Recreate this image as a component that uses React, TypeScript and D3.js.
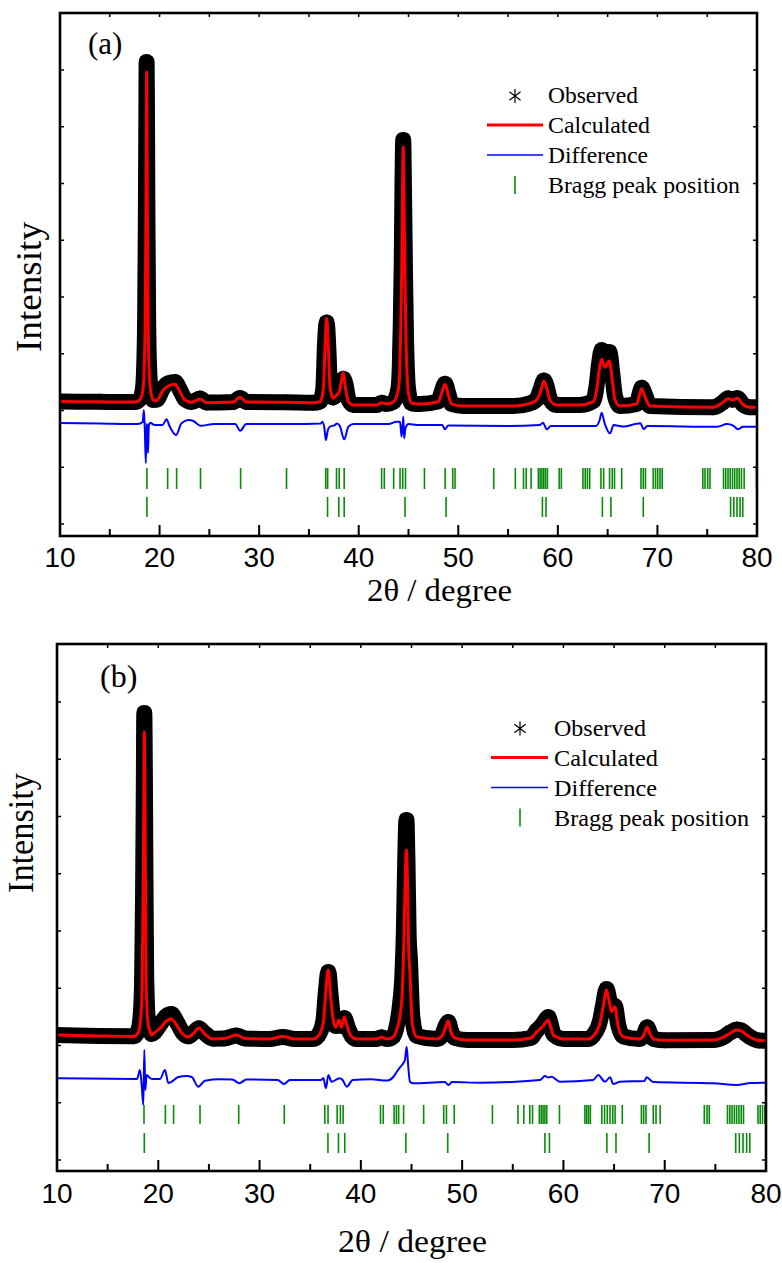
import React from 'react';
import * as d3 from 'd3';

const W = 782;
const H = 1263;

// ---------- axis values ----------
const xMajorTicks = [10, 20, 30, 40, 50, 60, 70, 80];
const xMinorTicks = [15, 25, 35, 45, 55, 65, 75];
const yTicks = [0, 1000, 2000, 3000, 4000, 5000, 6000, 7000, 8000];
const legendLabels = ['Observed', 'Calculated', 'Difference', 'Bragg peak position'];

// ---------- panel (a) ----------
const thetaA = [10, 12, 14, 16, 17.5, 18.0, 18.3, 18.45, 18.55, 18.62, 18.67, 18.70, 18.73, 18.78, 18.85, 18.95, 19.1, 19.37, 19.7, 20.37,
  20.88, 21.55, 22.05, 22.55, 23.22, 24.06, 24.73, 27.4, 28.08, 28.75, 32.77, 35.44, 36.11, 36.44, 36.62, 36.78, 36.95, 37.12, 37.45, 37.79,
  38.05, 38.29, 38.45, 38.65, 38.96, 39.46, 41.8, 42.3, 42.8, 43.47, 43.98, 44.12, 44.22, 44.32, 44.40, 44.47, 44.55, 44.65, 44.75, 44.88,
  45.05, 45.32, 46.16, 47.99, 48.33, 48.67, 49.0, 49.34, 50.5, 55.53, 57.2, 57.87, 58.31, 58.6, 58.88, 59.21, 59.88, 62.22, 63.56, 63.9,
  64.16, 64.4, 64.74, 65.17, 65.47, 65.74, 66.24, 67.92, 68.25, 68.42, 68.75, 69.25, 75.61, 76.45, 77.12, 77.56, 78.02, 78.63, 79.3, 80];
const calcA = [2158, 2155, 2153, 2150, 2150, 2185, 2326, 2713, 3594, 5180, 6942, 7964, 7295, 5356, 3594, 2713, 2361, 2185, 2173, 2361,
  2432, 2462, 2331, 2185, 2144, 2203, 2137, 2150, 2232, 2150, 2144, 2137, 2155, 2361, 3124, 3624, 3124, 2419, 2215, 2273,
  2331, 2537, 2666, 2419, 2155, 2097, 2097, 2137, 2114, 2150, 2361, 2713, 3418, 4475, 5885, 6643, 5709, 4299, 3242, 2537,
  2255, 2127, 2114, 2155, 2303, 2462, 2273, 2114, 2079, 2079, 2127, 2185, 2361, 2520, 2391, 2185, 2097, 2097, 2155, 2361,
  2713, 2902, 2761, 2872, 2537, 2185, 2079, 2114, 2303, 2384, 2243, 2079, 2056, 2127, 2208, 2185, 2215, 2097, 2056, 2056];
const obsA = [2158, 2155, 2153, 2150, 2150, 2200, 2350, 2750, 3650, 5300, 7100, 8140, 7450, 5450, 3650, 2750, 2380, 2185, 2190, 2400,
  2480, 2502, 2360, 2200, 2150, 2210, 2140, 2150, 2220, 2150, 2144, 2137, 2160, 2380, 3200, 3550, 3100, 2400, 2230, 2300,
  2360, 2500, 2560, 2480, 2200, 2097, 2097, 2137, 2114, 2150, 2380, 2750, 3500, 4600, 6050, 6766, 5850, 4400, 3300, 2560,
  2270, 2127, 2114, 2160, 2330, 2470, 2300, 2114, 2079, 2079, 2127, 2200, 2400, 2530, 2420, 2200, 2097, 2097, 2170, 2450,
  2850, 3066, 2890, 3031, 2650, 2250, 2079, 2114, 2320, 2400, 2280, 2079, 2056, 2127, 2215, 2190, 2220, 2100, 2056, 2056];
const diffThetaA = [10, 14, 17.8, 18.3, 18.43, 18.52, 18.62, 18.7, 18.78, 18.84, 18.92, 19.05, 19.5, 20.3, 20.7, 21.0, 21.65, 22.2, 22.9, 23.4,
  24.1, 25.5, 27.6, 28.1, 28.7, 33, 36.2, 36.35, 36.55, 36.7, 36.9, 37.1, 37.6, 37.8, 38.1, 38.55, 38.96, 39.5, 43, 43.8,
  44.15, 44.3, 44.42, 44.48, 44.56, 44.7, 45.0, 46, 48.4, 48.65, 49.0, 55, 58.2, 58.5, 58.9, 59.3, 63.8, 64.2, 64.4, 64.7,
  65.24, 65.6, 66.5, 68.3, 68.6, 69.0, 76, 77.0, 77.6, 78.1, 78.6, 80];
const diffA = [1780, 1771, 1762, 1797, 2009, 1656, 1075, 1762, 1692, 1251, 1727, 1785, 1744, 1744, 1845, 1727, 1568, 1774, 1832, 1815,
  1732, 1762, 1762, 1644, 1762, 1762, 1771, 1803, 1692, 1480, 1656, 1714, 1744, 1771, 1727, 1492, 1714, 1762, 1762, 1803,
  1803, 1538, 1762, 1891, 1510, 1692, 1762, 1744, 1744, 1669, 1735, 1727, 1744, 1785, 1669, 1727, 1727, 1832, 1961, 1774,
  1598, 1744, 1718, 1774, 1674, 1727, 1714, 1762, 1735, 1669, 1714, 1714];
const braggA1 = [18.73, 20.81, 21.71, 24.11, 28.14, 32.75, 36.69, 36.88, 37.77, 38.04, 38.54, 42.30, 42.57, 43.51, 44.15, 44.42, 44.70,
  46.60, 48.68, 49.44, 49.67, 53.56, 55.73, 56.55, 56.82, 57.31, 58.04, 58.22, 58.40, 58.58, 58.76, 58.95, 60.13, 60.35,
  62.52, 62.75, 62.97, 63.20, 64.33, 64.60, 65.19, 65.46, 65.69, 66.41, 68.35, 68.58, 68.80, 69.58, 69.81, 70.03, 70.26, 70.48,
  74.56, 74.78, 75.05, 75.28, 76.64, 76.86, 77.09, 77.31, 77.54, 77.76, 77.99, 78.21, 78.44, 78.71, 79.95];
const braggA2 = [18.73, 36.87, 38.0, 38.54, 44.65, 48.77, 58.45, 58.81, 64.47, 65.33, 68.58, 77.35, 77.67, 77.99, 78.30, 78.57];

// ---------- panel (b) ----------
const thetaB = [10, 14, 17.6, 18.0, 18.25, 18.4, 18.5, 18.57, 18.62, 18.67, 18.73, 18.8, 18.95, 19.15, 19.35, 19.6, 20.3, 20.8, 21.3, 21.8,
  22.4, 22.96, 23.5, 24.0, 24.6, 25.4, 26.5, 27.7, 28.6, 31, 32.3, 33.5, 35.3, 35.8, 36.29, 36.55, 36.79, 37.02, 37.28, 37.51,
  37.84, 38.07, 38.36, 38.7, 39.09, 39.58, 41.5, 42.05, 42.6, 43.2, 43.53, 43.86, 44.1, 44.25, 44.38, 44.5, 44.6, 44.72, 44.85, 45.07,
  45.5, 47.5, 48.0, 48.35, 48.63, 48.9, 49.3, 50.5, 55, 56.8, 57.35, 57.9, 58.3, 58.5, 58.75, 59.0, 59.33, 60, 62.5, 62.95,
  63.6, 63.93, 64.26, 64.55, 64.76, 65.08, 65.41, 65.9, 67.5, 67.95, 68.27, 68.55, 68.9, 70, 74.8, 75.8, 76.5, 77.1, 77.6, 78.1,
  78.6, 79.3, 80];
const calcB = [2183, 2166, 2157, 2218, 2445, 2969, 4541, 6288, 7476, 6637, 4891, 3144, 2445, 2271, 2183, 2218, 2323, 2428, 2463, 2358,
  2201, 2148, 2218, 2306, 2201, 2114, 2122, 2183, 2122, 2114, 2157, 2114, 2114, 2166, 2393, 2969, 3319, 2852, 2445, 2318,
  2445, 2318, 2493, 2306, 2154, 2114, 2114, 2143, 2114, 2148, 2271, 2503, 2969, 3843, 4891, 5415, 4891, 3668, 3266, 2393,
  2154, 2114, 2166, 2306, 2428, 2236, 2131, 2096, 2096, 2131, 2236, 2323, 2410, 2445, 2323, 2183, 2148, 2114, 2114, 2166,
  2388, 2678, 2969, 2742, 2590, 2678, 2328, 2154, 2114, 2183, 2318, 2201, 2114, 2091, 2096, 2148, 2218, 2271, 2253, 2183,
  2131, 2087, 2084];
const obsB = [2183, 2166, 2160, 2250, 2500, 3100, 4700, 6500, 7808, 6900, 5100, 3300, 2500, 2300, 2200, 2230, 2400, 2515, 2550, 2420,
  2230, 2160, 2230, 2300, 2210, 2120, 2122, 2175, 2122, 2114, 2150, 2114, 2114, 2180, 2420, 2950, 3284, 2870, 2450, 2340,
  2460, 2340, 2480, 2320, 2170, 2114, 2114, 2143, 2114, 2160, 2330, 2707, 3231, 4017, 5240, 5939, 5240, 3930, 3493, 2533,
  2170, 2114, 2170, 2330, 2410, 2260, 2131, 2096, 2096, 2131, 2260, 2360, 2460, 2498, 2370, 2200, 2150, 2114, 2114, 2180,
  2420, 2720, 2987, 2780, 2640, 2690, 2360, 2160, 2114, 2190, 2318, 2210, 2114, 2091, 2096, 2148, 2230, 2280, 2260, 2190,
  2131, 2087, 2084];
const diffThetaB = [10, 17.9, 18.19, 18.36, 18.52, 18.62, 18.72, 18.85, 19.18, 19.51, 20.17, 20.66, 20.99, 21.32, 21.98, 22.8, 23.3, 23.95, 24.61, 26.09,
  27.3, 28.0, 28.7, 31.8, 32.4, 33, 36.1, 36.29, 36.55, 36.79, 37.1, 37.9, 38.2, 38.6, 39.2, 41, 42.6, 43.2, 43.53, 43.92,
  44.19, 44.35, 44.52, 44.68, 44.85, 45.17, 48.3, 48.63, 49, 51.76, 57.68, 58.17, 58.5, 58.83, 59.65, 62.94, 63.44, 64.1, 64.6, 64.92,
  65.58, 68.0, 68.21, 68.87, 74.8, 77.1, 78.5, 80];
const diffB = [1427, 1415, 1572, 1310, 961, 1921, 1223, 1485, 1432, 1415, 1415, 1572, 1345, 1368, 1450, 1467, 1450, 1280, 1385, 1410,
  1406, 1340, 1406, 1397, 1327, 1397, 1397, 1432, 1252, 1485, 1368, 1427, 1397, 1280, 1397, 1410, 1389, 1450, 1537, 1630,
  1689, 1747, 1979, 1630, 1368, 1340, 1362, 1310, 1362, 1350, 1397, 1467, 1441, 1455, 1368, 1397, 1485, 1368, 1445, 1327,
  1368, 1380, 1445, 1362, 1340, 1310, 1345, 1350];
const braggB1 = [18.59, 20.70, 21.51, 24.12, 27.94, 32.44, 36.44, 36.76, 37.66, 37.98, 38.25, 41.94, 42.21, 43.28, 43.51, 43.73, 44.22,
  46.20, 48.18, 48.45, 49.22, 52.99, 55.51, 56.09, 56.68, 56.95, 57.62, 57.81, 57.99, 58.17, 58.35, 59.61,
  62.12, 62.30, 62.48, 62.66, 63.79, 64.06, 64.33, 64.60, 64.87, 65.10, 65.81, 67.70, 67.92, 68.15, 68.87, 69.14, 69.55,
  73.91, 74.18, 74.40, 76.20, 76.43, 76.65, 76.88, 77.10, 77.33, 77.56, 77.78, 79.21, 79.43, 79.66, 79.89];
const braggB2 = [18.62, 36.75, 37.79, 38.41, 44.44, 48.58, 58.17, 58.62, 64.29, 65.19, 68.46, 77.01, 77.37, 77.73, 78.09, 78.40];

// ---------- layout ----------
const panels = [
  {
    key: 'a', left: 60, right: 757, top: 13, bottom: 536, yMin: -211, yMax: 9004,
    theta: thetaA, calc: calcA, obs: obsA, diffTheta: diffThetaA, diff: diffA, bragg1: braggA1, bragg2: braggA2,
    row1: [468, 489], row2: [497, 517],
    label: '(a)', labelX: 88, labelY: 54, labelSize: 31,
    tickBaseline: 567,
    xTitle: { x: 367, y: 601, len: 145 },
    yTitle: { x: 41, y: 287, len: 130 },
    legend: { starX: 515, textX: 548, base: 103, lineX0: 487, lineX1: 543, widths: [90, 102, 100, 192] },
  },
  {
    key: 'b', left: 57, right: 766, top: 644, bottom: 1171, yMin: -192, yMax: 9013,
    theta: thetaB, calc: calcB, obs: obsB, diffTheta: diffThetaB, diff: diffB, bragg1: braggB1, bragg2: braggB2,
    row1: [1105, 1124], row2: [1133, 1153],
    label: '(b)', labelX: 100, labelY: 687, labelSize: 32,
    tickBaseline: 1203,
    xTitle: { x: 338, y: 1252, len: 149 },
    yTitle: { x: 33, y: 833, len: 120 },
    legend: { starX: 520, textX: 554, base: 735.5, lineX0: 491, lineX1: 548, widths: [92, 104, 103, 195] },
  },
];

const SERIF = '"Liberation Serif", "Times New Roman", Times, serif';
const SANS = '"Liberation Sans", Arial, Helvetica, sans-serif';

function Star({ cx, cy, r }: { cx: number; cy: number; r: number }) {
  const dx = r * 0.8;
  const dy = r * 0.62;
  const d = `M${cx},${cy - r}V${cy + r}M${cx - dx},${cy - dy}L${cx + dx},${cy + dy}M${cx - dx},${cy + dy}L${cx + dx},${cy - dy}`;
  return <path d={d} stroke="#000" strokeWidth={1.2} fill="none" />;
}

function Panel({ cfg }: { cfg: any }) {
  const x = d3.scaleLinear().domain([10, 80]).range([cfg.left, cfg.right]);
  const y = d3.scaleLinear().domain([cfg.yMin, cfg.yMax]).range([cfg.bottom, cfg.top]);
  const line = d3.line<[number, number]>().x((d) => x(d[0])).y((d) => y(d[1])).curve(d3.curveMonotoneX);
  const obsPts = cfg.theta.map((t: number, i: number) => [t, cfg.obs[i]] as [number, number]);
  const calcPts = cfg.theta.map((t: number, i: number) => [t, cfg.calc[i]] as [number, number]);
  const diffPts = cfg.diffTheta.map((t: number, i: number) => [t, cfg.diff[i]] as [number, number]);
  const clipId = `clip-${cfg.key}`;
  const lg = cfg.legend;
  const green = '#0a8a0a';

  return (
    <g>
      <defs>
        <clipPath id={clipId}>
          <rect x={cfg.left} y={cfg.top} width={cfg.right - cfg.left} height={cfg.bottom - cfg.top} />
        </clipPath>
      </defs>
      <g clipPath={`url(#${clipId})`}>
        <path d={line(obsPts) || ''} fill="none" stroke="#000" strokeWidth={16} strokeLinejoin="round" strokeLinecap="round" />
        {obsPts.map((p: [number, number], i: number) => (
          <Star key={`s-${i}`} cx={x(p[0])} cy={y(p[1])} r={8} />
        ))}
        <path d={line(calcPts) || ''} fill="none" stroke="#ff0000" strokeWidth={3} strokeLinejoin="round" />
        <path d={line(diffPts) || ''} fill="none" stroke="#0000ff" strokeWidth={2} strokeLinejoin="round" />
        {cfg.bragg1.map((t: number, i: number) => (
          <line key={`b1-${i}`} x1={x(t)} x2={x(t)} y1={cfg.row1[0]} y2={cfg.row1[1]} stroke={green} strokeWidth={1.6} />
        ))}
        {cfg.bragg2.map((t: number, i: number) => (
          <line key={`b2-${i}`} x1={x(t)} x2={x(t)} y1={cfg.row2[0]} y2={cfg.row2[1]} stroke={green} strokeWidth={1.6} />
        ))}
      </g>

      {/* ticks */}
      {xMajorTicks.map((t) => (
        <g key={`xm-${t}`}>
          <line x1={x(t)} x2={x(t)} y1={cfg.bottom} y2={cfg.bottom - 11} stroke="#000" strokeWidth={2} />
          <line x1={x(t)} x2={x(t)} y1={cfg.top} y2={cfg.top + 4} stroke="#000" strokeWidth={1.5} />
          <text x={x(t)} y={cfg.tickBaseline} textAnchor="middle" fontFamily={SANS} fontSize={28} fill="#000">{t}</text>
        </g>
      ))}
      {xMinorTicks.map((t) => (
        <g key={`xn-${t}`}>
          <line x1={x(t)} x2={x(t)} y1={cfg.bottom} y2={cfg.bottom - 7} stroke="#000" strokeWidth={2} />
          <line x1={x(t)} x2={x(t)} y1={cfg.top} y2={cfg.top + 4} stroke="#000" strokeWidth={1.5} />
        </g>
      ))}
      {yTicks.map((v) => (
        <g key={`y-${v}`}>
          <line x1={cfg.left} x2={cfg.left + 4} y1={y(v)} y2={y(v)} stroke="#000" strokeWidth={1.5} />
          <line x1={cfg.right} x2={cfg.right - 4} y1={y(v)} y2={y(v)} stroke="#000" strokeWidth={1.5} />
        </g>
      ))}

      <rect x={cfg.left} y={cfg.top} width={cfg.right - cfg.left} height={cfg.bottom - cfg.top} fill="none" stroke="#000" strokeWidth={2.6} />

      {/* labels */}
      <text x={cfg.labelX} y={cfg.labelY} fontFamily={SERIF} fontSize={cfg.labelSize} fill="#000">{cfg.label}</text>
      <text x={cfg.xTitle.x} y={cfg.xTitle.y} fontFamily={SERIF} fontSize={31} fill="#000"
        textLength={cfg.xTitle.len} lengthAdjust="spacingAndGlyphs">2θ / degree</text>
      <text transform={`translate(${cfg.yTitle.x},${cfg.yTitle.y}) rotate(-90)`} textAnchor="middle" fontFamily={SERIF}
        fontSize={35} fill="#000" textLength={cfg.yTitle.len} lengthAdjust="spacingAndGlyphs">Intensity</text>

      {/* legend */}
      <Star cx={lg.starX} cy={lg.base - 7} r={7} />
      <line x1={lg.lineX0} x2={lg.lineX1} y1={lg.base + 30 - 8} y2={lg.base + 30 - 8} stroke="#ff0000" strokeWidth={3} />
      <line x1={lg.lineX0} x2={lg.lineX1} y1={lg.base + 60 - 8} y2={lg.base + 60 - 8} stroke="#0000ff" strokeWidth={1.6} />
      <line x1={lg.starX} x2={lg.starX} y1={lg.base + 90 - 17} y2={lg.base + 90 + 1} stroke={green} strokeWidth={1.6} />
      {legendLabels.map((s, i) => (
        <text key={s} x={lg.textX} y={lg.base + i * 30} fontFamily={SERIF} fontSize={24} fill="#000"
          textLength={lg.widths[i]} lengthAdjust="spacingAndGlyphs">{s}</text>
      ))}
    </g>
  );
}

export default function App() {
  return (
    <svg width={W} height={H} viewBox={`0 0 ${W} ${H}`}
      style={{ position: 'absolute', left: 0, top: 0, display: 'block', background: '#fff' }}>
      <rect x={0} y={0} width={W} height={H} fill="#fff" />
      {panels.map((p) => <Panel key={p.key} cfg={p} />)}
    </svg>
  );
}
